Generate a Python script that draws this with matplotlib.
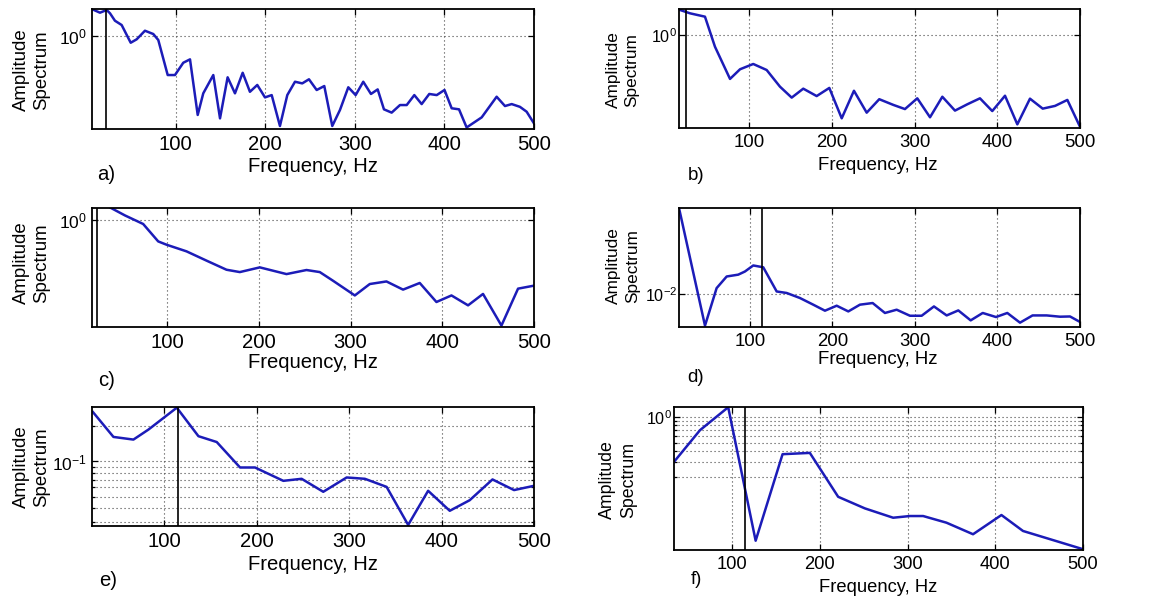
import matplotlib
matplotlib.use("Agg")
import matplotlib.pyplot as plt
from matplotlib.ticker import FixedLocator, NullFormatter, LogFormatterSciNotation

plt.rcParams['font.family'] = ['Liberation Sans', 'DejaVu Sans']
plt.rcParams['mathtext.fontset'] = 'custom'
plt.rcParams['mathtext.rm'] = 'Liberation Sans'
plt.rcParams['mathtext.it'] = 'Liberation Sans:italic'
plt.rcParams['mathtext.bf'] = 'Liberation Sans:bold'

# ---------------- data ----------------
freq_a = [7, 15.5, 23, 26.7, 32.2, 39.7, 49.8, 56.5, 65.7, 75, 80.6, 91.1, 99.2, 108.5, 116,
          124.6, 130.8, 142, 149.5, 158, 166.2, 174.8, 182.9, 191.1, 199.7, 207.2, 216.4, 224.6,
          233.2, 241.3, 248.8, 257.4, 265.9, 274.8, 283.4, 292.7, 300.9, 309.4, 318, 325.5, 332.5,
          341.1, 350.4, 357.9, 366.4, 374.6, 383.1, 391.4, 400.1, 408.1, 416.3, 424.8, 441.6,
          458.3, 467.6, 475.1, 484.3, 491.8, 500]
amp_a = [1.669, 1.564, 1.647, 1.546, 1.341, 1.235, 0.879, 0.939, 1.107, 1.039, 0.926, 0.473, 0.473,
         0.599, 0.639, 0.220, 0.333, 0.473, 0.206, 0.453, 0.333, 0.494, 0.343, 0.391, 0.308, 0.322,
         0.178, 0.322, 0.416, 0.403, 0.436, 0.355, 0.383, 0.178, 0.242, 0.374, 0.322, 0.416, 0.329,
         0.359, 0.245, 0.230, 0.266, 0.266, 0.322, 0.271, 0.329, 0.322, 0.355, 0.250, 0.245, 0.173,
         0.210, 0.312, 0.261, 0.271, 0.257, 0.234, 0.187]

freq_b = [16.2, 28.3, 46.4, 58.5, 76.7, 88.8, 104.8, 121, 137.1, 151.3, 165.3, 181.5, 196.8, 211.8,
          226.6, 242, 257.2, 274.2, 288.3, 303.2, 318.6, 333.5, 348.8, 363.7, 379, 393.9, 409.3,
          424.2, 439.5, 454.9, 469.8, 484.7, 500]
amp_b = [1.607, 1.507, 1.413, 0.794, 0.428, 0.515, 0.570, 0.508, 0.369, 0.299, 0.355, 0.308, 0.360,
         0.201, 0.341, 0.224, 0.290, 0.260, 0.240, 0.295, 0.205, 0.304, 0.233, 0.263, 0.295, 0.231,
         0.310, 0.179, 0.293, 0.242, 0.255, 0.286, 0.171]

freq_c = [23, 37.5, 53.9, 73.8, 90.2, 99.3, 121.1, 142.9, 164.7, 179.2, 201, 230.1, 251.9, 266.4,
          280.9, 304.6, 320.9, 339.1, 357.2, 375.4, 393.6, 410, 428.1, 444.4, 464.5, 482.6, 500]
amp_c = [1.8, 1.283, 1.10, 0.933, 0.668, 0.627, 0.552, 0.462, 0.388, 0.371, 0.406, 0.357, 0.386,
         0.371, 0.314, 0.237, 0.295, 0.310, 0.265, 0.301, 0.209, 0.237, 0.196, 0.244, 0.133, 0.270,
         0.286]

freq_d = [14, 45.5, 59.6, 71.8, 85.8, 93.9, 104, 116.1, 132.4, 144.5, 160.6, 176.7, 190.9, 205.1,
          219.2, 233.3, 248.7, 263.6, 277.8, 293.9, 308.1, 323, 338.4, 352.5, 367.5, 382.1, 398.2,
          411.9, 427.3, 442.5, 459.6, 475.8, 487.9, 500]
amp_d = [0.0521, 0.00545, 0.0112, 0.0140, 0.0145, 0.0154, 0.0173, 0.0167, 0.0105, 0.0102, 0.00926,
         0.00815, 0.00726, 0.00799, 0.00716, 0.00815, 0.00841, 0.00695, 0.00740, 0.00659, 0.00659,
         0.00788, 0.00663, 0.00730, 0.00603, 0.00695, 0.00643, 0.00695, 0.00577, 0.00663, 0.00663,
         0.00647, 0.00650, 0.00585]

freq_e = [23, 45.2, 66.8, 83, 113.7, 137.1, 156.9, 182.1, 198.3, 228.9, 248.7, 272.1, 297.4, 317.1,
          340.6, 363.9, 385.5, 408.9, 430.5, 455.1, 478.4, 500]
amp_e = [0.266, 0.1626, 0.1543, 0.188, 0.290, 0.165, 0.147, 0.0888, 0.0888, 0.0682, 0.0710, 0.0549,
         0.0729, 0.0710, 0.0605, 0.0285, 0.0560, 0.0377, 0.0465, 0.0701, 0.0568, 0.0618]

freq_f = [33.6, 63.2, 95.4, 126.7, 157.4, 188.5, 220.8, 251.2, 283.5, 302.5, 317.7, 344.3, 374.6,
          407, 431.6, 500]
amp_f = [0.2985, 0.700, 1.30, 0.0357, 0.367, 0.380, 0.1165, 0.0853, 0.0663, 0.0694, 0.0694, 0.0580,
         0.0425, 0.0713, 0.0464, 0.0284]

marker_freqs = [22, 23, 23, 114, 115, 115]
panel_letters = ['a)', 'b)', 'c)', 'd)', 'e)', 'f)']
x_ticks = [100, 200, 300, 400, 500]
major_yticks = [[1], [1], [1], [0.01], [0.1], [1]]
minor_yticks = [[], [], [], [],
                [0.03, 0.04, 0.05, 0.06, 0.07, 0.08, 0.09, 0.2],
                [0.2, 0.3, 0.4, 0.5, 0.6, 0.7, 0.8, 0.9]]
xlims = [(6.6, 500), (15, 500), (18, 500), (14, 500), (22, 500), (33.6, 500)]
ylims = [(0.168, 1.679), (0.1669, 1.637), (0.1294, 1.268), (0.00531, 0.0521),
         (0.0279, 0.294), (0.0278, 1.308)]
x_label = 'Frequency, Hz'
y_label = 'Amplitude\nSpectrum'

series = [(freq_a, amp_a), (freq_b, amp_b), (freq_c, amp_c),
          (freq_d, amp_d), (freq_e, amp_e), (freq_f, amp_f)]

# ---------------- layout (pixels) ----------------
W, H = 1157, 601
boxes = [(92, 9, 534, 129), (679, 9, 1080, 128),
         (92, 208, 534, 327), (679, 208, 1080, 327),
         (92, 407, 534, 526), (674, 407, 1083, 550)]
ylab_pos = [(31.5, 70), (622.5, 70), (31.5, 263), (623, 266), (31.5, 467), (618, 480)]
xlab_pos = [(313, 167), (878, 165), (313, 363), (878, 360), (313, 565), (878, 587)]
letter_pos = [(106, 175), (696, 175), (107, 380), (696, 377), (108, 580), (696, 580)]
tick_fs = [14.6, 13.4, 14.6, 13.4, 14.6, 13.2]
ytick_fs = [12.6, 11.6, 12.6, 11.6, 12.6, 11.6]
ytick_pad = [3.5, 1.2, 3.5, 1.2, 3.5, 1.5]
ylab_fs = [13.4, 12.4, 13.4, 12.4, 13.4, 12.8]

line_color = '#1c1cb8'

fig = plt.figure(figsize=(W / 100, H / 100), dpi=100)

for i, (l, t, r, b) in enumerate(boxes):
    ax = fig.add_axes([l / W, 1 - b / H, (r - l) / W, (b - t) / H])
    fx, fy = series[i]
    ax.plot(fx, fy, color=line_color, lw=1.8, zorder=3, solid_joinstyle='round')
    ax.axvline(marker_freqs[i], color='black', lw=1.2, zorder=4)
    ax.set_yscale('log')
    ax.set_xlim(*xlims[i])
    ax.set_ylim(*ylims[i])
    ax.xaxis.set_major_locator(FixedLocator(x_ticks))
    ax.yaxis.set_major_locator(FixedLocator(major_yticks[i]))
    ax.yaxis.set_minor_locator(FixedLocator(minor_yticks[i]))
    ax.yaxis.set_major_formatter(LogFormatterSciNotation())
    ax.yaxis.set_minor_formatter(NullFormatter())
    ax.xaxis.set_minor_locator(FixedLocator([]))
    ax.grid(True, which='both', color='#444444', linestyle=(0, (1, 2.6)), linewidth=0.8)
    ax.tick_params(which='both', direction='in', top=True, right=True,
                   length=4, width=0.9, colors='black')
    ax.tick_params(which='minor', length=2.5)
    ax.tick_params(axis='x', pad=4, labelsize=tick_fs[i])
    ax.tick_params(axis='y', pad=ytick_pad[i], labelsize=ytick_fs[i])
    for sp in ax.spines.values():
        sp.set_linewidth(1.3)
        sp.set_zorder(5)

    w, h = r - l, b - t
    ax.set_xlabel(x_label, fontsize=tick_fs[i], va='center', ha='center')
    ax.xaxis.set_label_coords((xlab_pos[i][0] - l) / w, 1 - (xlab_pos[i][1] - t) / h)
    ax.set_ylabel(y_label, fontsize=ylab_fs[i], va='center', ha='center', linespacing=1.3)
    ax.yaxis.set_label_coords((ylab_pos[i][0] - l) / w, 1 - (ylab_pos[i][1] - t) / h)

    fig.text(letter_pos[i][0] / W, 1 - letter_pos[i][1] / H, panel_letters[i],
             fontsize=tick_fs[i], ha='center', va='center')

fig.savefig('out.png', dpi=100)
